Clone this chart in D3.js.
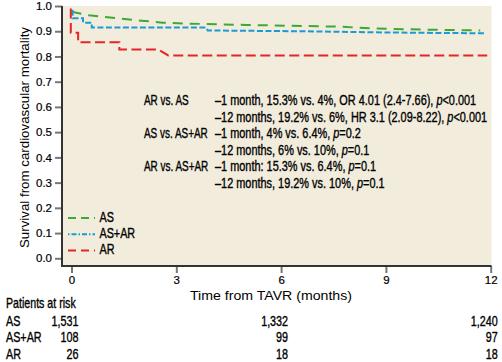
<!DOCTYPE html>
<html>
<head>
<meta charset="utf-8">
<script src="https://cdn.jsdelivr.net/npm/d3@7"></script>
<style>
  body { margin: 0; background: #fff; }
  text { fill: #000; }
</style>
</head>
<body>
<svg id="chart" width="502" height="362"></svg>
<script>
// ---- data ----
const monthTicks = [0, 3, 6, 9, 12];
const yTicks = [0, 0.1, 0.2, 0.3, 0.4, 0.5, 0.6, 0.7, 0.8, 0.9, 1.0];

const asTime = [0, 0.5, 1.1, 2.0, 2.6, 3.4, 5.0, 7.7, 8.6, 10.2, 11.7];
const asSurv = [0.977, 0.963, 0.954, 0.942, 0.934, 0.930, 0.925, 0.918, 0.911, 0.906, 0.903];

const asarTime = [0.03, 0.03, 0.1, 0.33, 0.33, 0.58, 0.58, 3.86, 3.9, 6.5, 8.5, 10.5, 11.85];
const asarSurv = [0.985, 0.951, 0.951, 0.951, 0.934, 0.934, 0.915, 0.915, 0.903, 0.900, 0.896, 0.893, 0.892];

const arTime = [-0.02, -0.02, 0.19, 0.19, 1.37, 1.37, 2.48, 2.77, 11.9];
const arSurv = [0.99, 0.894, 0.894, 0.856, 0.856, 0.828, 0.828, 0.804, 0.804];

const groups = ["AS", "AS+AR", "AR"];
const riskTimes = [0, 6, 12];
const riskAS = ["1,531", "1,332", "1,240"];
const riskASAR = ["108", "99", "97"];
const riskAR = ["26", "18", "18"];

const compLabels = ["AR vs. AS", "", "AS vs. AS+AR", "", "AR vs. AS+AR", ""];
const compText = [
  ["\u20131 month, 15.3% vs. 4%, OR 4.01 (2.4-7.66), ", "p", "<0.001"],
  ["\u201312 months, 19.2% vs. 6%, HR 3.1 (2.09-8.22), ", "p", "<0.001"],
  ["\u20131 month, 4% vs. 6.4%, ", "p", "=0.2"],
  ["\u201312 months, 6% vs. 10%, ", "p", "=0.1"],
  ["\u20131 month: 15.3% vs. 6.4%, ", "p", "=0.1"],
  ["\u201312 months, 19.2% vs. 10%, ", "p", "=0.1"]
];

// ---- layout ----
const FONT = "'Liberation Sans',Arial,sans-serif";
const svg = d3.select("#chart");
const x = d3.scaleLinear().domain([0, 12]).range([71.5, 490.7]);
const y = d3.scaleLinear().domain([0, 1]).range([258.3, 6]);
const frame = { left: 62, top: 6, right: 491.5, bottom: 266 };

// narrow text: no condensed face installed, so squeeze horizontally
function narrow(px, py, size, sx, anchor) {
  return svg.append("g")
    .attr("transform", `translate(${px},${py}) scale(${sx},1)`)
    .append("text")
    .attr("font-family", FONT).attr("font-size", size)
    .attr("stroke", "#000").attr("stroke-width", 0.35)
    .attr("text-anchor", anchor || "start");
}

svg.append("rect")
  .attr("x", frame.left).attr("y", frame.top)
  .attr("width", frame.right - frame.left).attr("height", frame.bottom - frame.top)
  .attr("fill", "#f1ecdc");

// y axis
const yAxis = svg.append("g")
  .attr("transform", `translate(${frame.left},0)`)
  .call(d3.axisLeft(y).tickValues(yTicks).tickFormat(d3.format(".1f")).tickSize(7).tickPadding(3));
yAxis.select(".domain").remove();
yAxis.selectAll(".tick line").attr("stroke", "#777").attr("stroke-width", 2);
yAxis.selectAll("text").attr("font-family", FONT).attr("font-size", 11.5).attr("fill", "#000")
  .attr("stroke", "#000").attr("stroke-width", 0.2);

// x axis
const xAxis = svg.append("g")
  .attr("transform", `translate(0,${frame.bottom})`)
  .call(d3.axisBottom(x).tickValues(monthTicks).tickSize(7).tickPadding(3));
xAxis.select(".domain").remove();
xAxis.selectAll(".tick line").attr("stroke", "#777").attr("stroke-width", 2);
xAxis.selectAll("text").attr("font-family", FONT).attr("font-size", 11.5).attr("fill", "#000")
  .attr("stroke", "#000").attr("stroke-width", 0.2);

// frame lines
svg.append("line").attr("x1", frame.left).attr("x2", frame.left)
  .attr("y1", frame.top).attr("y2", frame.bottom + 1)
  .attr("stroke", "#333").attr("stroke-width", 2);
svg.append("line").attr("x1", frame.left).attr("x2", frame.right)
  .attr("y1", frame.bottom).attr("y2", frame.bottom)
  .attr("stroke", "#333").attr("stroke-width", 2);

// axis titles
svg.append("text").attr("x", 271).attr("y", 300)
  .attr("text-anchor", "middle").attr("font-family", FONT).attr("font-size", 13.5)
  .attr("textLength", 162).attr("lengthAdjust", "spacingAndGlyphs")
  .text("Time from TAVR (months)");
svg.append("text")
  .attr("transform", "translate(28.5,137.5) rotate(-90)")
  .attr("text-anchor", "middle").attr("font-family", FONT).attr("font-size", 13)
  .attr("textLength", 221).attr("lengthAdjust", "spacingAndGlyphs")
  .text("Survival from cardiovascular mortality");

// curves
const line = d3.line().x(d => x(d[0])).y(d => y(d[1]));
const series = [
  { t: asTime, s: asSurv, color: "#3aaa35", dash: "10,7" },
  { t: asarTime, s: asarSurv, color: "#1a9ad6", dash: "6,2.5" },
  { t: arTime, s: arSurv, color: "#e8242b", dash: "10,4.5" }
];
series.forEach(sr => {
  svg.append("path")
    .datum(d3.zip(sr.t, sr.s))
    .attr("d", line)
    .attr("fill", "none")
    .attr("stroke", sr.color)
    .attr("stroke-width", 2)
    .attr("stroke-dasharray", sr.dash);
});

// legend
const legendDash = ["8,5", "1.5,2,5,2", "8,5"];
groups.forEach((g, i) => {
  const ly = 218 + i * 16.3;
  svg.append("line").attr("x1", 68).attr("x2", 95).attr("y1", ly).attr("y2", ly)
    .attr("stroke", series[i].color).attr("stroke-width", 2).attr("stroke-dasharray", legendDash[i]);
  narrow(99.5, ly + 3.7, 14, 0.77).text(g);
});

// comparison annotations
compText.forEach((parts, i) => {
  const ty = 105 + i * 16.5;
  if (compLabels[i]) narrow(144, ty, 14, 0.71).text(compLabels[i]);
  const t = narrow(215, ty, 14, 0.78);
  t.append("tspan").text(parts[0]);
  t.append("tspan").attr("font-style", "italic").text(parts[1]);
  t.append("tspan").text(parts[2]);
});

// patients at risk
narrow(6, 307.5, 14, 0.76).text("Patients at risk");
const riskRows = [riskAS, riskASAR, riskAR];
riskRows.forEach((row, i) => {
  const ry = 326 + i * 16.4;
  narrow(6, ry, 14, 0.77).text(groups[i]);
  row.forEach((v, j) => {
    narrow(x(riskTimes[j]) + 7, ry, 14, 0.77, "end").text(v);
  });
});
</script>
</body>
</html>
